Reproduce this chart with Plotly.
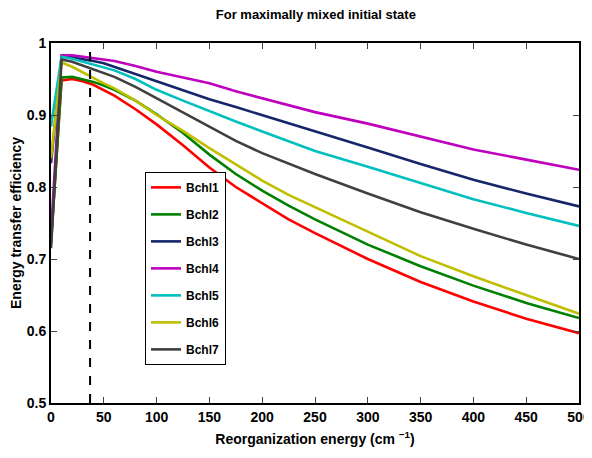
import plotly.graph_objects as go

reorg = [0, 10, 20, 30, 40, 50, 60, 80, 100, 125, 150, 175, 200, 225, 250, 300, 350, 400, 450, 500]

bchl1 = [0.725, 0.948, 0.950, 0.947, 0.942, 0.935, 0.927, 0.908, 0.887, 0.858, 0.827, 0.800, 0.777, 0.755, 0.736, 0.700, 0.668, 0.641, 0.617, 0.597]
bchl2 = [0.720, 0.952, 0.953, 0.950, 0.946, 0.941, 0.935, 0.920, 0.901, 0.875, 0.845, 0.818, 0.795, 0.774, 0.755, 0.720, 0.690, 0.663, 0.639, 0.618]
bchl3 = [0.833, 0.981, 0.980, 0.978, 0.975, 0.972, 0.967, 0.957, 0.947, 0.934, 0.922, 0.911, 0.900, 0.889, 0.877, 0.855, 0.832, 0.810, 0.791, 0.773]
bchl4 = [0.736, 0.983, 0.983, 0.981, 0.979, 0.977, 0.975, 0.968, 0.960, 0.952, 0.944, 0.933, 0.923, 0.913, 0.904, 0.888, 0.870, 0.852, 0.838, 0.824]
bchl5 = [0.884, 0.981, 0.978, 0.974, 0.970, 0.966, 0.962, 0.950, 0.935, 0.920, 0.905, 0.891, 0.877, 0.863, 0.850, 0.828, 0.806, 0.783, 0.764, 0.746]
bchl6 = [0.840, 0.973, 0.967, 0.959, 0.951, 0.944, 0.937, 0.920, 0.900, 0.878, 0.854, 0.831, 0.809, 0.789, 0.772, 0.738, 0.704, 0.676, 0.650, 0.624]
bchl7 = [0.715, 0.977, 0.974, 0.969, 0.964, 0.958, 0.953, 0.939, 0.923, 0.903, 0.883, 0.864, 0.847, 0.832, 0.818, 0.791, 0.765, 0.742, 0.720, 0.700]

names = ["Bchl1", "Bchl2", "Bchl3", "Bchl4", "Bchl5", "Bchl6", "Bchl7"]
series = [bchl1, bchl2, bchl3, bchl4, bchl5, bchl6, bchl7]
colors = ["#ff0000", "#008000", "#16266a", "#bf00bf", "#00bfbf", "#bfbf00", "#404040"]

marker_x = 37  # dashed reference line position (cm^-1)

x_ticks = [0, 50, 100, 150, 200, 250, 300, 350, 400, 450, 500]
y_ticks = [0.5, 0.6, 0.7, 0.8, 0.9, 1.0]
y_ticktext = ["0.5", "0.6", "0.7", "0.8", "0.9", "1"]

FONT = "Liberation Sans, Arial, sans-serif"

def bold(size):
    return dict(family=FONT, size=size, color="black", weight="bold")

fig = go.Figure()
for name, ys, c in zip(names, series, colors):
    fig.add_trace(go.Scatter(x=reorg, y=ys, mode="lines", name=name, legendgroup=name,
                             line=dict(color=c, width=2.6)))

fig.add_trace(go.Scatter(x=[marker_x, marker_x], y=[0.5, 1.0], mode="lines", showlegend=False,
                         line=dict(color="black", width=2, dash="dash")))

fig.update_layout(
    width=592, height=442,
    margin=dict(l=43, r=21, t=35, b=47),
    paper_bgcolor="white", plot_bgcolor="white",
    font=bold(13),
    title=dict(text="For maximally mixed initial state", x=0.52, xanchor="center",
               y=0.986, yanchor="middle", font=bold(13)),
    showlegend=True,
    legend=dict(x=0.178, y=0.642, xanchor="left", yanchor="top",
                bordercolor="black", borderwidth=1, bgcolor="white",
                font=bold(12), tracegroupgap=8, itemwidth=30),
    xaxis=dict(range=[0, 500], tickvals=x_ticks, ticks="inside", ticklen=6, tickwidth=1,
               showline=True, linecolor="black", linewidth=2, mirror="ticks",
               showgrid=False, zeroline=False, automargin=False,
               tickfont=bold(14),
               title=dict(text="Reorganization energy (cm <sup>−1</sup>)", standoff=10,
                          font=bold(14))),
    yaxis=dict(range=[0.5, 1.0], tickvals=y_ticks, ticktext=y_ticktext, ticks="inside",
               ticklen=6, tickwidth=1,
               showline=True, linecolor="black", linewidth=2, mirror="ticks",
               showgrid=False, zeroline=False, automargin=False,
               tickfont=bold(14),
               title=dict(text="Energy transfer efficiency", standoff=2,
                          font=bold(14))),
)

fig.write_html("out.html")
